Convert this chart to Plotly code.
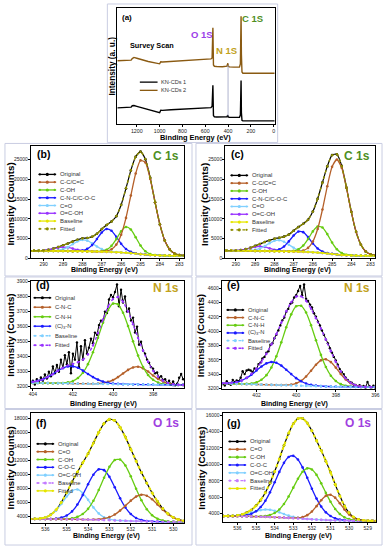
import plotly.graph_objects as go

# ======================= DATA =======================
# (a) survey scan, arbitrary intensity units
SURVEY_BE = [1370, 1300, 1250, 1240, 1225, 1200, 1100, 1000, 990, 975, 900, 800, 700, 600, 550, 540, 533, 528, 520, 500,
             450, 410, 402, 398, 390, 350, 300, 292, 286, 283, 278, 270, 200, 100, 0, -9]
SURVEY_KN1 = [14.2, 14.4, 14.8, 16.0, 16.2, 15.5, 13.0, 10.0, 12.2, 12.0, 12.5, 13.0, 13.5, 14.0, 14.4, 15.5, 33.5, 7.5, 6.5, 6.3,
              6.2, 6.5, 8.0, 6.3, 6.0, 5.8, 6.0, 8.0, 37.7, 10.0, 3.5, 3.0, 3.0, 3.0, 3.0, 3.0]
SURVEY_KN2 = [54.7, 54.9, 55.2, 56.5, 57.5, 56.8, 54.0, 52.0, 53.8, 53.6, 54.0, 54.6, 55.2, 55.8, 56.2, 57.0, 83.0, 51.0, 49.9, 49.7,
              49.5, 50.0, 52.5, 50.0, 49.4, 49.2, 49.3, 52.0, 92.9, 60.0, 45.0, 43.9, 43.9, 43.9, 43.9, 43.9]

# C 1s binding energy grid (panels b, c)
C1S_BE = [290.75, 290.5, 290.25, 290.0, 289.75, 289.5, 289.25, 289.0, 288.75, 288.5, 288.25, 288.0, 287.75, 287.5, 287.25,
          287.0, 286.75, 286.5, 286.25, 286.0, 285.75, 285.5, 285.25, 285.0, 284.75, 284.5, 284.25, 284.0, 283.75, 283.5,
          283.25, 283.0, 282.75]
# (b) KN-CDs 1 : baseline and component heights above baseline
B_ORIGINAL = [1990, 1960, 1985, 2050, 2190, 2520, 2880, 3360, 3770, 4300, 4730, 5080, 5190, 5500, 6230, 7430, 8440, 9330,
              10670, 13560, 17690, 22250, 25680, 27000, 25060, 20380, 14180, 8600, 4540, 2320, 1250, 890, 760]
B_BASELINE = [1950, 1940, 1930, 1920, 1910, 1900, 1890, 1875, 1860, 1845, 1830, 1810, 1790, 1770, 1745, 1715, 1680, 1640,
              1590, 1530, 1450, 1350, 1230, 1100, 980, 880, 810, 770, 745, 730, 720, 715, 710]
B_CC = [0] * 14 + [10, 52, 207, 686, 1910, 4466, 8797, 14557, 20243, 23666, 23259, 19221, 13346, 7795, 3819, 1576, 547, 159, 39]
B_COH = [0] * 13 + [4, 28, 143, 540, 1540, 3300, 5340, 6510, 5980, 4140, 2160, 850, 250, 56, 10, 1] + [0] * 4
B_CN = [0] * 8 + [1, 9, 48, 197, 640, 1610, 3170, 4850, 5770, 5350, 3870, 2180, 954, 326, 87, 18, 3] + [0] * 8
B_CO = [0, 0, 0, 3, 14, 55, 177, 469, 1007, 1760, 2500, 2890, 2715, 2075, 1290, 653, 268, 90, 24, 6] + [0] * 13
B_OCOH = [2, 8, 34, 110, 278, 546, 835, 995, 923, 667, 375, 164, 56, 15, 4] + [0] * 18

# (c) KN-CDs 2
C_ORIGINAL = [2030, 1995, 2010, 2040, 2110, 2360, 2700, 3210, 3670, 4170, 4590, 4990, 5220, 5520, 6050, 7010, 7940, 8770,
              9780, 11850, 15090, 19210, 23250, 26120, 26300, 23400, 17890, 11800, 6700, 3480, 1750, 1060, 800]
C_BASELINE = [2000, 1990, 1980, 1970, 1960, 1950, 1935, 1920, 1905, 1890, 1870, 1850, 1830, 1805, 1780, 1750, 1715, 1675,
              1625, 1560, 1480, 1380, 1260, 1130, 1000, 890, 810, 760, 735, 720, 710, 705, 700]
C_CC = [0] * 14 + [4, 21, 93, 341, 1054, 2740, 5980, 10990, 16970, 22010, 24000, 22010, 16970, 10990, 5980, 2740, 1054, 341, 93]
C_COH = [0] * 13 + [7, 40, 177, 601, 1593, 3287, 5285, 6615, 6453, 4900, 2900, 1336, 480, 134, 29, 5] + [0] * 4
C_CN = [0] * 9 + [6, 31, 135, 463, 1227, 2532, 4072, 5096, 4971, 3775, 2236, 1030, 369, 103, 22, 4] + [0] * 8
C_CO = [0, 0, 0, 1, 5, 24, 87, 259, 630, 1246, 2005, 2621, 2789, 2414, 1700, 972, 454, 171, 53, 13, 2] + [0] * 12
C_OCOH = [0, 2, 13, 51, 156, 374, 698, 1015, 1150, 1015, 698, 374, 156, 51, 13, 2] + [0] * 17

# (d) N 1s KN-CDs 1
D_BE = [404.25, 404.0, 403.75, 403.5, 403.25, 403.0, 402.75, 402.5, 402.25, 402.0, 401.75, 401.5, 401.25, 401.0, 400.75,
        400.5, 400.25, 400.0, 399.75, 399.5, 399.25, 399.0, 398.75, 398.5, 398.25, 398.0, 397.75, 397.5, 397.25, 397.0,
        396.75, 396.5, 396.25]
D_BASELINE = [3225, 3225, 3225, 3224, 3224, 3223, 3223, 3222, 3222, 3221, 3221, 3220, 3220, 3219, 3219, 3218, 3218, 3217,
              3217, 3216, 3216, 3215, 3215, 3214, 3214, 3214, 3213, 3213, 3213, 3212, 3212, 3212, 3212]
D_CNC = [0] * 14 + [2, 6, 14, 27, 47, 72, 96, 113, 118, 108, 87, 61, 38, 21, 10, 4, 1, 0, 0]
D_CNH = [0] * 6 + [1, 3, 7, 17, 37, 73, 130, 210, 307, 408, 491, 536, 531, 476, 388, 287, 192, 117, 64, 32, 15, 6, 2, 0, 0, 0, 0]
D_C3N = [3, 7, 14, 25, 41, 61, 83, 101, 113, 114, 105, 87, 65, 45, 28, 16, 8, 4, 2, 1] + [0] * 13
D_RAW_BE = [404.0, 403.9, 403.8, 403.7, 403.6, 403.5, 403.4, 403.3, 403.2, 403.1, 403.0, 402.9, 402.8, 402.7, 402.6, 402.5,
            402.4, 402.3, 402.2, 402.1, 402.0, 401.9, 401.8, 401.7, 401.6, 401.5, 401.4, 401.3, 401.2, 401.1, 401.0, 400.9,
            400.8, 400.7, 400.6, 400.5, 400.4, 400.3, 400.2, 400.1, 400.0, 399.9, 399.8, 399.7, 399.6, 399.5, 399.4, 399.3,
            399.2, 399.1, 399.0, 398.9, 398.8, 398.7, 398.6, 398.5, 398.4, 398.3, 398.2, 398.1, 398.0, 397.9, 397.8, 397.7,
            397.6, 397.5, 397.4, 397.3, 397.2, 397.1, 397.0, 396.9, 396.8, 396.7, 396.6, 396.5]
D_ORIGINAL = [3240, 3215, 3250, 3228, 3262, 3240, 3282, 3255, 3300, 3270, 3335, 3290, 3345, 3300, 3380, 3325, 3410, 3350,
              3430, 3290, 3420, 3380, 3495, 3330, 3470, 3380, 3510, 3420, 3460, 3520, 3490, 3560, 3545, 3610, 3640, 3630,
              3700, 3690, 3780, 3810, 3795, 3830, 3880, 3735, 3845, 3760, 3800, 3700, 3720, 3640, 3660, 3560, 3600, 3480,
              3500, 3440, 3420, 3380, 3360, 3330, 3320, 3290, 3295, 3260, 3270, 3245, 3250, 3225, 3240, 3215, 3235, 3210,
              3220, 3260, 3285, 3250]

# (e) N 1s KN-CDs 2
E_BE = [404.0, 403.75, 403.5, 403.25, 403.0, 402.75, 402.5, 402.25, 402.0, 401.75, 401.5, 401.25, 401.0, 400.75, 400.5,
        400.25, 400.0, 399.75, 399.5, 399.25, 399.0, 398.75, 398.5, 398.25, 398.0, 397.75, 397.5, 397.25, 397.0, 396.75,
        396.5, 396.25, 396.0, 395.75]
E_BASELINE = [3272, 3270, 3268, 3266, 3264, 3262, 3260, 3258, 3256, 3254, 3252, 3250, 3248, 3246, 3244, 3242, 3240, 3238,
              3236, 3234, 3232, 3230, 3228, 3226, 3225, 3224, 3223, 3222, 3221, 3220, 3220, 3219, 3219, 3218]
E_CNC = [0] * 13 + [1, 4, 12, 32, 69, 131, 213, 299, 362, 379, 342, 266, 178, 103, 51, 22, 8, 3, 1, 0, 0]
E_CNH = [0, 0, 0, 0, 0, 1, 5, 12, 30, 67, 134, 243, 400, 597, 809, 992, 1106, 1116, 1023, 849, 640, 438, 271, 152, 78, 36,
         15, 6, 2, 0, 0, 0, 0, 0]
E_C3N = [1, 2, 5, 12, 25, 49, 85, 135, 194, 253, 298, 319, 310, 273, 218, 158, 104, 62, 33, 16, 7, 3, 1] + [0] * 11
E_RAW_BE = [403.7, 403.6, 403.5, 403.4, 403.3, 403.2, 403.1, 403.0, 402.9, 402.8, 402.7, 402.6, 402.5, 402.4, 402.3, 402.2,
            402.1, 402.0, 401.9, 401.8, 401.7, 401.6, 401.5, 401.4, 401.3, 401.2, 401.1, 401.0, 400.9, 400.8, 400.7, 400.6,
            400.5, 400.4, 400.3, 400.2, 400.1, 400.0, 399.9, 399.8, 399.7, 399.6, 399.5, 399.4, 399.3, 399.2, 399.1, 399.0,
            398.9, 398.8, 398.7, 398.6, 398.5, 398.4, 398.3, 398.2, 398.1, 398.0, 397.9, 397.8, 397.7, 397.6, 397.5, 397.4,
            397.3, 397.2, 397.1, 397.0, 396.9, 396.8, 396.7, 396.6, 396.5, 396.4, 396.3, 396.2, 396.1, 396.0]
E_ORIGINAL = [3262, 3240, 3300, 3265, 3250, 3320, 3290, 3310, 3300, 3350, 3440, 3400, 3450, 3460, 3450, 3430, 3480, 3470,
              3540, 3560, 3620, 3640, 3700, 3720, 3810, 3830, 3900, 3950, 4010, 4080, 4150, 4190, 4270, 4310, 4380, 4400,
              4470, 4500, 4560, 4630, 4500, 4650, 4450, 4420, 4370, 4330, 4250, 4200, 4130, 4080, 4010, 3950, 3880, 3830,
              3760, 3700, 3640, 3590, 3530, 3470, 3430, 3400, 3350, 3320, 3290, 3280, 3255, 3250, 3230, 3245, 3220, 3235,
              3210, 3290, 3230, 3215, 3240, 3210]

# (f) O 1s KN-CDs 1
F_BE = [536.75, 536.5, 536.25, 536.0, 535.75, 535.5, 535.25, 535.0, 534.75, 534.5, 534.25, 534.0, 533.75, 533.5, 533.25,
        533.0, 532.75, 532.5, 532.25, 532.0, 531.75, 531.5, 531.25, 531.0, 530.75, 530.5, 530.25, 530.0, 529.75, 529.5]
F_ORIGINAL = [3640, 3660, 3700, 3830, 4220, 4890, 6020, 7400, 8940, 10300, 11640, 12950, 14490, 16000, 17290, 17850, 17700,
              16720, 15320, 13600, 11920, 10250, 8770, 7340, 6140, 5100, 4360, 3820, 3520, 3330]
F_BASELINE = [3620, 3615, 3610, 3605, 3600, 3595, 3590, 3580, 3570, 3560, 3545, 3530, 3510, 3490, 3465, 3440, 3415, 3390,
              3365, 3340, 3315, 3295, 3275, 3260, 3245, 3235, 3225, 3220, 3215, 3210]
F_CO = [0] * 9 + [0, 4, 12, 34, 91, 213, 449, 846, 1426, 2151, 2904, 3508, 3792, 3667, 3174, 2458, 1704, 1056, 587, 291, 129]
F_COH = [0, 0, 0, 0, 0, 5, 17, 53, 145, 356, 782, 1542, 2716, 4282, 6045, 7630, 8626, 8722, 7890, 6390, 4630, 3000, 1742,
         904, 420, 174, 65, 22, 7, 2]
F_COC = [0, 0, 0, 7, 26, 81, 223, 536, 1138, 2124, 3491, 5056, 6442, 7226, 7134, 6199, 4744, 3194, 1894, 988, 454, 183, 65,
         20, 6, 0, 0, 0, 0, 0]
F_OCOH = [5, 22, 78, 232, 582, 1228, 2177, 3246, 4068, 4285, 3795, 2825, 1768, 929, 411, 153, 48, 13, 3, 1] + [0] * 10

# (g) O 1s KN-CDs 2
G_BE = [537.0, 536.75, 536.5, 536.25, 536.0, 535.75, 535.5, 535.25, 535.0, 534.75, 534.5, 534.25, 534.0, 533.75, 533.5,
        533.25, 533.0, 532.75, 532.5, 532.25, 532.0, 531.75, 531.5, 531.25, 531.0, 530.75, 530.5, 530.25, 530.0, 529.75,
        529.5, 529.25, 529.0, 528.75, 528.5]
G_ORIGINAL = [3740, 3720, 3735, 3760, 3800, 3920, 4150, 4460, 4990, 5650, 6590, 7720, 9130, 10660, 12310, 13770, 14950, 15560,
              15600, 15030, 14090, 12900, 11710, 10400, 9060, 7570, 6180, 4950, 4110, 3570, 3320, 3190, 3160, 3130, 3140]
G_BASELINE = [3710, 3705, 3700, 3695, 3688, 3680, 3672, 3662, 3650, 3636, 3620, 3600, 3578, 3552, 3522, 3490, 3455, 3420,
              3385, 3350, 3315, 3285, 3257, 3232, 3212, 3195, 3181, 3170, 3160, 3152, 3146, 3141, 3137, 3133, 3130]
G_CO = [0] * 15 + [6, 22, 72, 202, 477, 959, 1639, 2383, 2943, 3090, 2758, 2092, 1349, 739, 345, 136, 46, 13, 3, 1]
G_COH = [0, 0, 0, 0, 0, 0, 2, 5, 16, 44, 109, 249, 514, 970, 1664, 2605, 3715, 4828, 5717, 6170, 6068, 5437, 4441, 3305,
         2241, 1385, 778, 400, 187, 80, 31, 11, 4, 1, 0]
G_COC = [0, 1, 3, 10, 28, 69, 157, 334, 653, 1176, 1956, 3000, 4243, 5538, 6667, 7406, 7588, 7171, 6251, 5029, 3730, 2553,
         1612, 938, 504, 250, 114, 48, 19, 7, 2, 0, 0, 0, 0]
G_OCOH = [3, 7, 18, 43, 92, 178, 307, 473, 653, 807, 892, 882, 780, 618, 438, 278, 158, 80, 36, 15, 6] + [0] * 14

# ======================= STYLE / LAYOUT =======================
W, H = 388, 550
FONT = "Liberation Sans, Arial, sans-serif"
BROWN, GREEN, BLUE, LBLUE, PURPLE = "#b5602a", "#66cc11", "#1a1aff", "#80d0ff", "#9933ff"
YELLOW, OLIVE, VIOLET = "#e6e600", "#8c8c00", "#c47cff"


def fx(p):
    return p / W


def fy(p):
    return 1 - p / H


fig = go.Figure()


def ax_names(n):
    return ("x", "y") if n == 1 else (f"x{n}", f"y{n}")


def set_axes(n, box, xr, yr, xdt, ydt, show_y=True, tick_font=5.0):
    l, t, r, b = box
    xa, ya = ax_names(n)
    common = dict(showline=True, linecolor="black", linewidth=1, mirror=True, showgrid=False, zeroline=False,
                  ticks="outside", ticklen=2, tickwidth=0.8, tickcolor="black", ticklabelstandoff=-1,
                  tickformat="d", exponentformat="none",
                  tickfont=dict(family=FONT, size=tick_font, color="#222"))
    fig.layout["xaxis" if n == 1 else f"xaxis{n}"] = dict(common, domain=[fx(l), fx(r)], range=xr, anchor=ya, dtick=xdt,
                                                          tick0=0)
    yd = dict(common, domain=[fy(b), fy(t)], range=yr, anchor=xa, dtick=ydt, tick0=0)
    if not show_y:
        yd.update(showticklabels=False, ticks="")
    fig.layout["yaxis" if n == 1 else f"yaxis{n}"] = yd


def line(n, x, y, color, width=1.3, dash="solid", msize=2.6, shape="spline", markers=True):
    xa, ya = ax_names(n)
    fig.add_trace(go.Scatter(x=x, y=y, xaxis=xa, yaxis=ya, mode="lines+markers" if markers else "lines",
                             line=dict(color=color, width=width, dash=dash, shape=shape, smoothing=0.6),
                             marker=dict(size=msize, color=color), showlegend=False, hoverinfo="skip"))


def plus(base, net):
    return [b + c for b, c in zip(base, net)]


def total(base, *nets):
    out = list(base)
    for nt in nets:
        out = [o + c for o, c in zip(out, nt)]
    return out


def legend(entries, x0, x1, xt, y0, dy, fsize=5.9, markers=True):
    for i, (label, color, dash) in enumerate(entries):
        y = y0 + i * dy
        fig.add_shape(type="line", xref="paper", yref="paper", x0=fx(x0), x1=fx(x1), y0=fy(y), y1=fy(y),
                      line=dict(color=color, width=1.3, dash=dash))
        if markers:
            xm = (x0 + x1) / 2
            for cx, rr in ((x0 + 1.5, 1.1), (xm, 1.6), (x1 - 1.5, 1.1)):
                fig.add_shape(type="circle", xref="paper", yref="paper", x0=fx(cx - rr), x1=fx(cx + rr),
                              y0=fy(y + rr), y1=fy(y - rr), fillcolor=color, line=dict(width=0))
        fig.add_annotation(text=label, xref="paper", yref="paper", x=fx(xt), y=fy(y), xanchor="left",
                           yanchor="middle", showarrow=False, font=dict(family=FONT, size=fsize, color="#333"))


def text(s, x, y, size, color="black", anchor="center", angle=0, bold=True):
    fig.add_annotation(text=f"<b>{s}</b>" if bold else s, xref="paper", yref="paper", x=fx(x), y=fy(y), xanchor=anchor,
                       yanchor="middle", showarrow=False, textangle=angle,
                       font=dict(family=FONT, size=size, color=color))


def box(l, t, r, b):
    fig.add_shape(type="rect", xref="paper", yref="paper", x0=fx(l), x1=fx(r), y0=fy(b), y1=fy(t),
                  line=dict(color="#c9cde2", width=1), layer="below")


# light panel frames
for bx in [(107, 1, 280, 141), (3, 142, 193, 276), (197, 142, 386, 276), (3, 277, 193, 410), (197, 277, 386, 410),
           (3, 411, 193, 548), (197, 411, 386, 548)]:
    box(*bx)

# ---------- (a) survey ----------
set_axes(1, (117, 5, 277, 122.7), [1372, -9], [0, 100], 200, 20, show_y=False, tick_font=5.3)
line(1, SURVEY_BE, SURVEY_KN2, "#8a5a12", width=1.4, shape="linear", markers=False)
line(1, SURVEY_BE, SURVEY_KN1, "black", width=1.4, shape="linear", markers=False)
fig.add_shape(type="line", xref="x", yref="y", x0=400, x1=400, y0=7, y1=51, line=dict(color="#9aa0c0", width=0.8))
text("(a)", 127, 15, 8)
text("Survey Scan", 152, 43, 7.3)
text("O 1S", 203, 32, 9.5, "#9b40e8")
text("N 1S", 228, 48, 9.5, "#c2a21c")
text("C 1S", 254, 16, 9.5, "#4f8f1f")
text("Intensity (a. u.)", 112, 64, 8.3, angle=-90)
text("Binding Energy (eV)", 197, 135.5, 7.4)
legend([("KN-CDs 1", "black", "solid"), ("KN-CDs 2", "#8a5a12", "solid")], 140, 158, 159.5, 80, 8.3, fsize=5.6,
       markers=False)

# ---------- C 1s panels ----------
C1S_LEG = [("Original", "black", "solid"), ("C-C/C=C", BROWN, "solid"), ("C-OH", GREEN, "solid"),
           ("C-N-C/C-O-C", BLUE, "solid"), ("C=O", LBLUE, "solid"), ("O=C-OH", PURPLE, "solid"),
           ("Baseline", YELLOW, "solid"), ("Fitted", OLIVE, "dot")]


def c1s_panel(n, bx, xr, orig, base, cc, coh, cn, co, ocoh, tag, legx, legy):
    set_axes(n, bx, xr, [0, 28300], 1, 5000)
    line(n, C1S_BE, orig, "black", width=1.2, msize=2.6)
    line(n, C1S_BE, plus(base, ocoh), PURPLE)
    line(n, C1S_BE, plus(base, co), LBLUE)
    line(n, C1S_BE, plus(base, cn), BLUE)
    line(n, C1S_BE, plus(base, coh), GREEN)
    line(n, C1S_BE, plus(base, cc), BROWN)
    line(n, C1S_BE, base, YELLOW, width=1.4)
    line(n, C1S_BE, total(base, cc, coh, cn, co, ocoh), OLIVE, width=1.4, dash="dot", msize=2.4)
    l, t, r, b = bx
    text(tag, l + 13, 153, 10.5)
    text("C 1s", r - 3, 155, 12, "#4f8f1f", anchor="right")
    legend(C1S_LEG, legx, legx + 18, legx + 20, legy, 7.86)
    text("Intensity (Counts)", l - 21, (t + b) / 2 + 2, 9.8, angle=-90)
    text("Binding Energy (eV)", (l + r) / 2 - 3, 270, 7.0)


c1s_panel(2, (29.3, 145, 185, 258.3), [290.66, 282.75], B_ORIGINAL, B_BASELINE, B_CC, B_COH, B_CN, B_CO, B_OCOH,
          "(b)", 37, 173.3)
c1s_panel(3, (226.7, 145, 379, 258.3), [290.56, 282.76], C_ORIGINAL, C_BASELINE, C_CC, C_COH, C_CN, C_CO, C_OCOH,
          "(c)", 232, 174.3)

# ---------- N 1s panels ----------
N1S_LEG = [("Original", "black", "solid"), ("C-N-C", BROWN, "solid"), ("C-N-H", GREEN, "solid"),
           ("(C)<sub>3</sub>-N", BLUE, "solid"), ("Baseline", LBLUE, "dot"), ("Fitted", PURPLE, "dot")]


def n1s_panel(n, bx, xr, yr, ydt, raw_be, orig, be, base, cnc, cnh, c3n, tag, legx, legy, dy):
    set_axes(n, bx, xr, yr, 2, ydt)
    line(n, raw_be, orig, "black", width=1.0, msize=2.4, shape="linear")
    line(n, be, plus(base, cnc), BROWN)
    line(n, be, plus(base, cnh), GREEN)
    line(n, be, plus(base, c3n), BLUE)
    line(n, be, base, LBLUE, width=1.2, dash="dot")
    line(n, be, total(base, cnc, cnh, c3n), PURPLE, width=1.4, dash="dot", msize=2.4)
    l, t, r, b = bx
    text(tag, l + 12, 285, 10.5)
    text("N 1s", r - 3, 288, 12, "#c2a21c", anchor="right")
    legend(N1S_LEG, legx, legx + 18, legx + 20, legy, dy, fsize=5.8)
    text("Intensity (Counts)", l - 21, (t + b) / 2 + 1, 9.8, angle=-90)
    text("Binding Energy (eV)", (l + r) / 2 - 4, 405, 7.0)


n1s_panel(4, (29.3, 281.3, 185, 389), [404.1, 396.45], [3193, 3902], 100, D_RAW_BE, D_ORIGINAL, D_BE, D_BASELINE,
          D_CNC, D_CNH, D_C3N, "(d)", 32, 298, 9.6)
n1s_panel(5, (223.3, 281.3, 379.3, 390), [403.75, 396.0], [3196, 4696], 200, E_RAW_BE, E_ORIGINAL, E_BE, E_BASELINE,
          E_CNC, E_CNH, E_C3N, "(e)", 228, 310.3, 7.75)

# ---------- O 1s panels ----------
O1S_LEG = [("Original", "black", "solid"), ("C=O", BROWN, "solid"), ("C-OH", GREEN, "solid"),
           ("C-O-C", BLUE, "solid"), ("O=C-OH", LBLUE, "solid"), ("Baseline", VIOLET, "dot"),
           ("Fitted", YELLOW, "solid")]


def o1s_panel(n, bx, xr, yr, be, orig, base, co, coh, coc, ocoh, tag, legx, legy):
    set_axes(n, bx, xr, yr, 1, 2000)
    line(n, be, orig, "black", width=1.2, msize=2.6)
    line(n, be, plus(base, ocoh), LBLUE)
    line(n, be, plus(base, coc), BLUE)
    line(n, be, plus(base, coh), GREEN)
    line(n, be, plus(base, co), BROWN)
    line(n, be, base, VIOLET, width=1.3, dash="dot")
    line(n, be, total(base, co, coh, coc, ocoh), YELLOW, width=2.0, dash="dot", msize=2.8)
    l, t, r, b = bx
    text(tag, l + 11, 425, 10.5)
    text("O 1s", r - 3, 425, 12, "#a040e0", anchor="right")
    legend(O1S_LEG, legx, legx + 18, legx + 20, legy, 7.92)
    text("Intensity (Counts)", l - 21, (t + b) / 2, 9.8, angle=-90)
    text("Binding Energy (eV)", (l + r) / 2 - 1, 539, 7.0)


o1s_panel(6, (29.3, 415, 185, 526), [536.68, 529.5], [3010, 18700], F_BE, F_ORIGINAL, F_BASELINE, F_CO, F_COH, F_COC,
          F_OCOH, "(f)", 35, 445.7)
o1s_panel(7, (224, 415, 380, 525), [536.8, 528.55], [2960, 16200], G_BE, G_ORIGINAL, G_BASELINE, G_CO, G_COH, G_COC,
          G_OCOH, "(g)", 230, 443.3)

fig.update_layout(width=W, height=H, margin=dict(l=0, r=0, t=0, b=0), paper_bgcolor="white", plot_bgcolor="white",
                  showlegend=False, font=dict(family=FONT))
fig.write_html("out.html", config={"displayModeBar": False},
               post_script="document.body.style.margin='0';document.body.style.overflow='hidden';")
